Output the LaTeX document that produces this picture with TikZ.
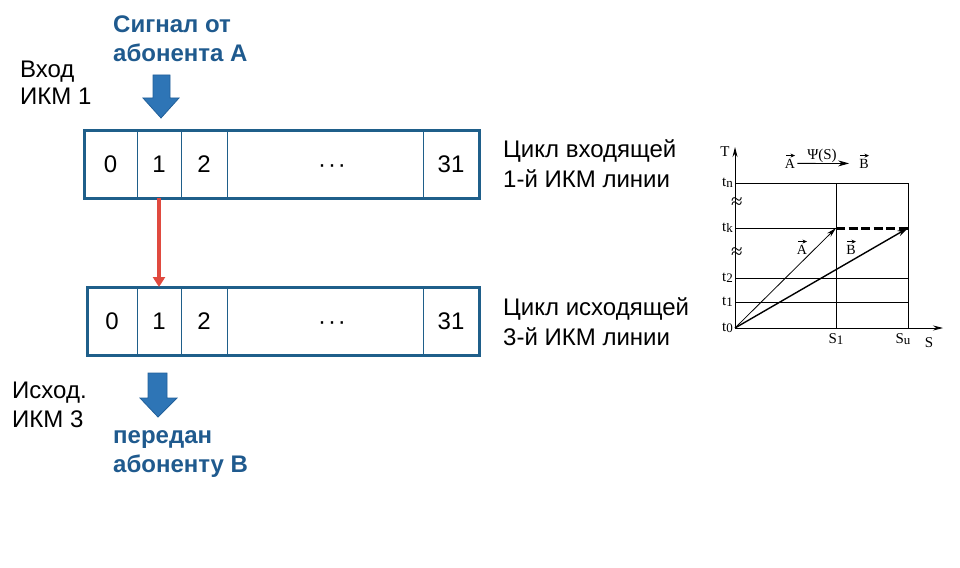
\documentclass[tikz,border=0pt]{standalone}
\usepackage{fontspec}
\setmainfont{Liberation Sans}
\newfontfamily\chartfont{Liberation Serif}
\usetikzlibrary{arrows.meta}
\definecolor{boxc}{HTML}{1F5F8A}
\definecolor{titlec}{HTML}{1F5A8E}
\definecolor{arrfill}{HTML}{2E75B6}
\definecolor{arrdraw}{HTML}{22609A}
\definecolor{redc}{HTML}{E04A3F}
\newcommand{\chlab}[2]{#1\raisebox{-1.5pt}{\fontsize{13}{13}\selectfont #2}}
\begin{document}
\begin{tikzpicture}[x=1pt,y=-1pt,
  lbl/.style={anchor=base west, inner sep=0, font=\fontsize{24}{28}\selectfont},
  ttl/.style={anchor=base west, inner sep=0, font=\fontsize{24}{28}\selectfont\bfseries, text=titlec},
  cell/.style={draw=boxc, line width=1pt, minimum height=68pt, inner sep=0, outer sep=0, anchor=north west, font=\fontsize{24}{28}\selectfont, text height=17pt, text depth=0pt},
  dots/.style={font=\fontsize{24}{28}\selectfont, inner sep=0, text height=17pt, text depth=0pt, xshift=7pt},
  frame/.style={draw=boxc, line width=3pt},
  blockarr/.style={fill=arrfill, draw=arrdraw, line width=0.8pt},
  link/.style={draw=redc, line width=3.5pt, -{Triangle[length=10pt,width=12pt]}},
  ch/.style={font=\chartfont\fontsize{15}{17}\selectfont, inner sep=0},
  vl/.style={font=\chartfont\fontsize{14}{16}\selectfont, inner sep=0, anchor=base},
  acc/.style={line width=0.8pt, -{Stealth[length=4.5pt,width=4pt]}},
  brk/.style={font=\chartfont\fontsize{21}{21}\selectfont, inner sep=0},
  gridl/.style={line width=0.9pt},
  axis/.style={line width=0.9pt, -{Stealth[length=10pt,width=5pt]}},
  vecthin/.style={line width=0.8pt, -{Stealth[length=10pt,width=5pt]}},
  vecthick/.style={line width=1.4pt, -{Stealth[length=11pt,width=6pt]}},
  dashline/.style={line width=3pt, dash pattern=on 9pt off 3.5pt},
]
\useasboundingbox (0,0) rectangle (960,567);

% titles and labels
\node[ttl] (sigA1) at (113,33) {Сигнал от};
\node[ttl] (sigA2) at (113,62) {абонента А};
\node[lbl] (in1) at (20,78) {Вход};
\node[lbl] (in2) at (20,105) {ИКМ 1};
\node[lbl] (cyc1a) at (503,157) {Цикл входящей};
\node[lbl] (cyc1b) at (503,187) {1-й ИКМ линии};
\node[lbl] (cyc3a) at (503,315) {Цикл исходящей};
\node[lbl] (cyc3b) at (503,345) {3-й ИКМ линии};
\node[lbl] (out1) at (12,398) {Исход.};
\node[lbl] (out2) at (12,427) {ИКМ 3};
\node[ttl] (sigB1) at (113,443) {передан};
\node[ttl] (sigB2) at (113,472) {абоненту В};

% top frame (incoming)
\node[cell, minimum width=53pt] (t0) at (84,130) {0};
\node[cell, minimum width=44pt] (t1) at (t0.north east) {1};
\node[cell, minimum width=46pt] (t2) at (t1.north east) {2};
\node[cell, minimum width=196pt] (t3) at (t2.north east) {};
\node[cell, minimum width=56pt] (t31) at (t3.north east) {31};
\node[dots] (t3d) at (t3.center) {·\kern2pt·\kern2pt·};
\draw[frame] (t0.north west) rectangle (t31.south east);

% bottom frame (outgoing)
\node[cell, minimum width=50pt] (b0) at (87,287) {0};
\node[cell, minimum width=44pt] (b1) at (b0.north east) {1};
\node[cell, minimum width=46pt] (b2) at (b1.north east) {2};
\node[cell, minimum width=196pt] (b3) at (b2.north east) {};
\node[cell, minimum width=56pt] (b31) at (b3.north east) {31};
\node[dots] (b3d) at (b3.center) {·\kern2pt·\kern2pt·};
\draw[frame] (b0.north west) rectangle (b31.south east);

% red transfer arrow
\draw[link] (t1.south) -- (b1.north);

% block arrows
\draw[blockarr] (153,75) -- (170,75) -- (170,98) -- (179,98) -- (161,118) -- (143,98) -- (153,98) -- cycle;
\draw[blockarr] (148,373) -- (167,373) -- (167,398) -- (177,398) -- (158,417) -- (140,398) -- (148,398) -- cycle;

% chart
\coordinate (O) at (735,328);
\coordinate (Ttop) at (735,147);
\coordinate (Send) at (943,328);
\coordinate (P1) at (836,228);
\coordinate (P2) at (908,228);
\draw[gridl] (735,183) -- (908,183);
\draw[gridl] (735,228) -- (836,228);
\draw[gridl] (735,278) -- (908,278);
\draw[gridl] (735,302) -- (908,302);
\draw[gridl] (836,183) -- (836,328);
\draw[gridl] (908,183) -- (908,328);
\draw[axis] (O) -- (Ttop);
\draw[axis] (O) -- (Send);
\draw[dashline] (P1) -- (P2);
\draw[vecthin] (O) -- (P1);
\draw[vecthick] (O) -- (P2);

\node[ch] (Tl) at (725,152) {T};
\node[ch, anchor=east] (ltn) at (733,183) {\chlab{t}{n}};
\node[ch, anchor=east] (ltk) at (733,228) {\chlab{t}{k}};
\node[ch, anchor=east] (lt2) at (733,278) {\chlab{t}{2}};
\node[ch, anchor=east] (lt1) at (733,302) {\chlab{t}{1}};
\node[ch, anchor=east] (lt0) at (733,328) {\chlab{t}{0}};
\node[brk] (br1) at (737,203) {≈};
\node[brk] (br2) at (737,253) {≈};
\node[ch] (lS1) at (836,339) {\chlab{S}{1}};
\node[ch] (lSu) at (903,339) {\chlab{S}{u}};
\node[ch] (lS) at (929,343) {S};

% vector labels with accent arrows
\node[vl] (vA) at (802,254) {A};
\node[vl] (vB) at (851,254) {B};
\node[vl] (hA) at (790,168) {A};
\node[vl] (hB) at (864,168) {B};
\draw[acc] ([xshift=-4pt,yshift=3pt]vA.north) -- ++(9,0);
\draw[acc] ([xshift=-4pt,yshift=3pt]vB.north) -- ++(9,0);
\draw[acc] ([xshift=-4pt,yshift=3pt]hA.north) -- ++(9,0);
\draw[acc] ([xshift=-4pt,yshift=3pt]hB.north) -- ++(9,0);
\node[ch] (psi) at (822,156) {Ψ(S)};
\draw[vecthick, line width=0.8pt] ([xshift=2pt]hA.east) -- ([xshift=-10pt]hB.west);
\end{tikzpicture}
\end{document}
